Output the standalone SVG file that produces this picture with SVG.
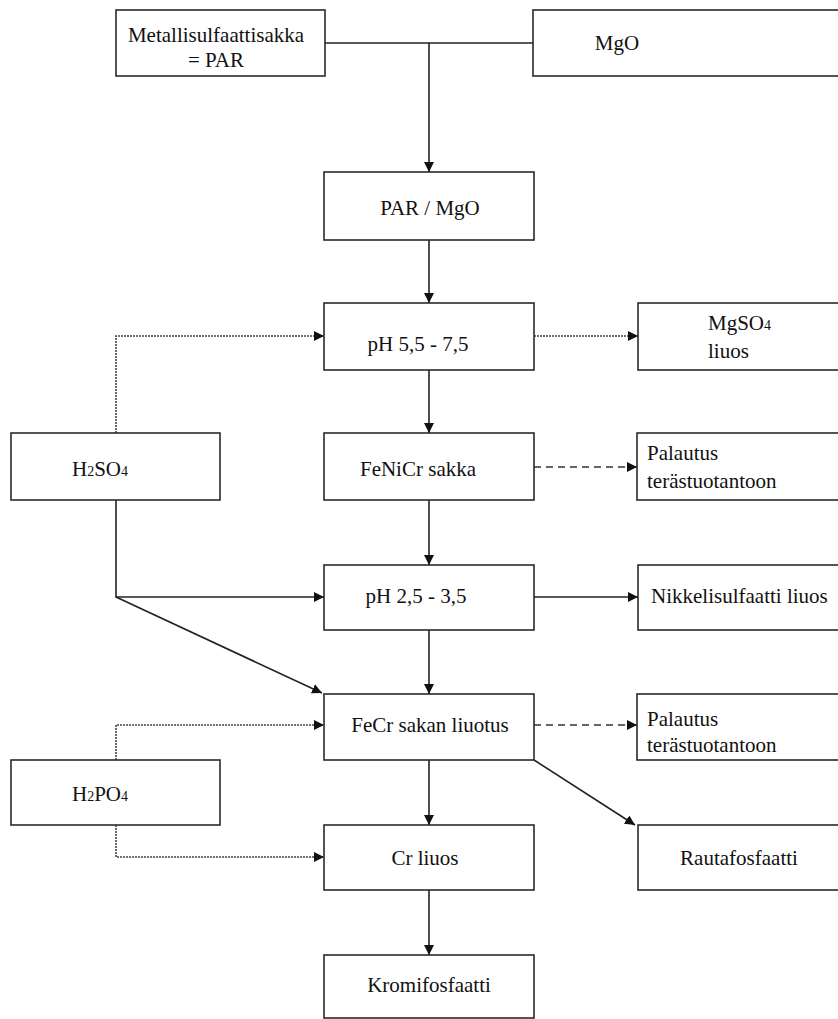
<svg xmlns="http://www.w3.org/2000/svg" width="838" height="1019" viewBox="0 0 838 1019">
<style>
.box{fill:#fff;stroke:#2a2a2a;stroke-width:1.6}
.t{font-size:21px;fill:#111}
.c{fill:none;stroke:#222;stroke-width:1.6}
.dot{fill:none;stroke:#444;stroke-width:1.6;stroke-dasharray:2 1}
.dash{fill:none;stroke:#333;stroke-width:1.6;stroke-dasharray:7 5}
</style>
<defs>
<marker id="ah" viewBox="0 0 10 10" refX="10" refY="5" markerWidth="10" markerHeight="10" markerUnits="userSpaceOnUse" orient="auto">
<path d="M0,0 L10,5 L0,10 z" fill="#111"/>
</marker>
</defs>
<rect width="838" height="1019" fill="#fff"/>
<g id="connectors">
<path class="c" d="M325,43 H533"/>
<path class="c" d="M429,43 V172" marker-end="url(#ah)"/>
<path class="c" d="M429,240 V303" marker-end="url(#ah)"/>
<path class="dot" d="M116,433 V336 H324" marker-end="url(#ah)"/>
<path class="dot" d="M534,336 H638" marker-end="url(#ah)"/>
<path class="c" d="M429,370 V433" marker-end="url(#ah)"/>
<path class="dash" d="M534,467 H637" marker-end="url(#ah)"/>
<path class="c" d="M429,500 V565" marker-end="url(#ah)"/>
<path class="c" d="M116,500 V597 H324" marker-end="url(#ah)"/>
<path class="c" d="M116,597 L322,693" marker-end="url(#ah)"/>
<path class="c" d="M534,597 H638" marker-end="url(#ah)"/>
<path class="c" d="M429,630 V694" marker-end="url(#ah)"/>
<path class="dot" d="M116,760 V725 H324" marker-end="url(#ah)"/>
<path class="dash" d="M534,725 H637" marker-end="url(#ah)"/>
<path class="c" d="M429,760 V825" marker-end="url(#ah)"/>
<path class="c" d="M534,760 L635,825" marker-end="url(#ah)"/>
<path class="dot" d="M116,825 V857 H324" marker-end="url(#ah)"/>
<path class="c" d="M429,890 V955" marker-end="url(#ah)"/>
</g>
<g font-family="Liberation Serif, Times New Roman, DejaVu Serif, serif">
<g id="n-par">
<rect class="box" x="116" y="10" width="209" height="66"/>
<text class="t" x="216" y="42" text-anchor="middle">Metallisulfaattisakka</text>
<text class="t" x="216" y="67" text-anchor="middle">= PAR</text>
</g>
<g id="n-mgo">
<rect class="box" x="533" y="10" width="310" height="66"/>
<text class="t" x="617" y="50" text-anchor="middle">MgO</text>
</g>
<g id="n-parmgo">
<rect class="box" x="324" y="172" width="210" height="68"/>
<text class="t" x="430" y="215" text-anchor="middle">PAR / MgO</text>
</g>
<g id="n-ph55">
<rect class="box" x="324" y="303" width="210" height="67"/>
<text class="t" x="418" y="351" text-anchor="middle">pH 5,5 - 7,5</text>
</g>
<g id="n-mgso4">
<rect class="box" x="638" y="303" width="205" height="67"/>
<text class="t" x="708" y="330">MgSO<tspan font-size="14">4</tspan></text>
<text class="t" x="708" y="358">liuos</text>
</g>
<g id="n-h2so4">
<rect class="box" x="11" y="433" width="209" height="67"/>
<text class="t" x="72" y="476">H<tspan font-size="14">2</tspan>SO<tspan font-size="14">4</tspan></text>
</g>
<g id="n-fenicr">
<rect class="box" x="324" y="433" width="210" height="67"/>
<text class="t" x="418" y="476" text-anchor="middle">FeNiCr sakka</text>
</g>
<g id="n-palautus1">
<rect class="box" x="637" y="433" width="206" height="67"/>
<text class="t" x="647" y="460">Palautus</text>
<text class="t" x="647" y="488">terästuotantoon</text>
</g>
<g id="n-ph25">
<rect class="box" x="324" y="565" width="210" height="65"/>
<text class="t" x="416" y="603" text-anchor="middle">pH 2,5 - 3,5</text>
</g>
<g id="n-nikkeli">
<rect class="box" x="638" y="565" width="205" height="65"/>
<text class="t" x="651" y="603">Nikkelisulfaatti liuos</text>
</g>
<g id="n-fecr">
<rect class="box" x="324" y="694" width="210" height="66"/>
<text class="t" x="430" y="732" text-anchor="middle">FeCr sakan liuotus</text>
</g>
<g id="n-palautus2">
<rect class="box" x="637" y="694" width="206" height="66"/>
<text class="t" x="647" y="726">Palautus</text>
<text class="t" x="647" y="752">terästuotantoon</text>
</g>
<g id="n-h2po4">
<rect class="box" x="11" y="760" width="209" height="65"/>
<text class="t" x="72" y="801">H<tspan font-size="14">2</tspan>PO<tspan font-size="14">4</tspan></text>
</g>
<g id="n-crliuos">
<rect class="box" x="324" y="825" width="210" height="65"/>
<text class="t" x="425" y="865" text-anchor="middle">Cr liuos</text>
</g>
<g id="n-rauta">
<rect class="box" x="638" y="825" width="205" height="65"/>
<text class="t" x="739" y="865" text-anchor="middle">Rautafosfaatti</text>
</g>
<g id="n-kromi">
<rect class="box" x="324" y="955" width="210" height="63"/>
<text class="t" x="429" y="992" text-anchor="middle">Kromifosfaatti</text>
</g>
</g>
</svg>
